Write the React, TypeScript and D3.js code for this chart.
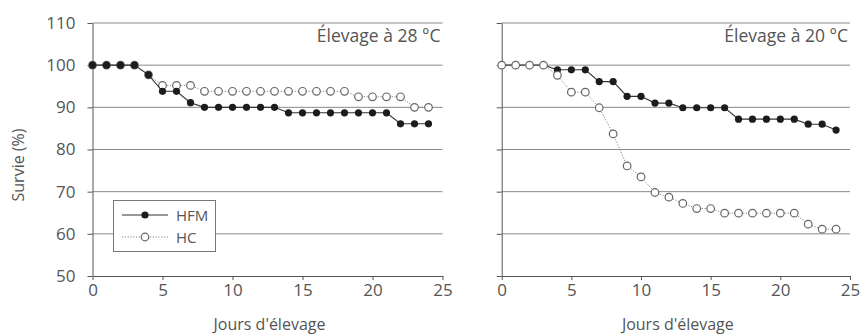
import React, { useRef, useEffect } from "react";
import * as d3 from "d3";

// jours d'élevage
const days = [0, 1, 2, 3, 4, 5, 6, 7, 8, 9, 10, 11, 12, 13, 14, 15, 16, 17, 18, 19, 20, 21, 22, 23, 24];

// survie (%) - élevage à 28 °C
const hfm28 = [100, 100, 100, 100, 97.7, 93.8, 93.8, 91.1, 90, 90, 90, 90, 90, 90, 88.7, 88.7, 88.7, 88.7, 88.7, 88.7, 88.7, 88.7, 86.1, 86.1, 86.1];
const hc28 = [100, 100, 100, 100, 97.7, 95.2, 95.2, 95.2, 93.8, 93.8, 93.8, 93.8, 93.8, 93.8, 93.8, 93.8, 93.8, 93.8, 93.8, 92.5, 92.5, 92.5, 92.5, 90, 90];

// survie (%) - élevage à 20 °C
const hfm20 = [100, 100, 100, 100, 98.9, 98.9, 98.9, 96.1, 96.1, 92.6, 92.6, 91, 91, 89.9, 89.9, 89.9, 89.9, 87.2, 87.2, 87.2, 87.2, 87.2, 86, 86, 84.6];
const hc20 = [100, 100, 100, 100, 97.6, 93.6, 93.6, 89.9, 83.7, 76.1, 73.5, 69.8, 68.7, 67.2, 66, 66, 64.9, 64.9, 64.9, 64.9, 64.9, 64.9, 62.3, 61.1, 61.1];

const yTicks = [50, 60, 70, 80, 90, 100, 110];
const xTicks = [0, 5, 10, 15, 20, 25];

const panels = [
  { title: "Élevage à 28 °C", hfm: hfm28, hc: hc28, x0: 92.5, x1: 442.5, labels: true, hcOnTop: false },
  { title: "Élevage à 20 °C", hfm: hfm20, hc: hc20, x0: 501.7, x1: 850, labels: false, hcOnTop: true },
];

const font = "'Open Sans', 'DejaVu Sans', sans-serif";
const textColor = "#555";

const App = () => {
  const svgRef = useRef(null);

  useEffect(() => {
    const svg = d3.select(svgRef.current);
    svg.selectAll("*").remove();

    const y = d3.scaleLinear().domain([50, 110]).range([276, 23]);

    panels.forEach((p) => {
      const x = d3.scaleLinear().domain([0, 25]).range([p.x0, p.x1]);
      const g = svg.append("g");

      // horizontal grid lines
      g.selectAll(".grid")
        .data(yTicks.filter((t) => t > 50))
        .enter()
        .append("line")
        .attr("x1", p.x0)
        .attr("x2", p.x1)
        .attr("y1", (d) => y(d))
        .attr("y2", (d) => y(d))
        .attr("stroke", "#8a8a8a")
        .attr("stroke-width", 1);

      // y axis
      const yAxis = g
        .append("g")
        .attr("transform", `translate(${p.x0},0)`)
        .call(d3.axisLeft(y).tickValues(yTicks).tickSize(5).tickSizeOuter(0).tickFormat(p.labels ? d3.format("d") : () => ""));
      yAxis.select(".domain").attr("stroke", "#555");
      yAxis.selectAll(".tick line").attr("stroke", "#555");
      yAxis
        .selectAll("text")
        .attr("x", -17)
        .attr("fill", textColor)
        .style("font-family", font)
        .style("font-size", "17px");

      // x axis
      const xAxis = g
        .append("g")
        .attr("transform", `translate(0,${y(50)})`)
        .call(d3.axisBottom(x).tickValues(xTicks).tickSize(4).tickSizeOuter(0));
      xAxis.select(".domain").attr("stroke", "#555");
      xAxis.selectAll(".tick line").attr("stroke", "#555");
      xAxis
        .selectAll("text")
        .attr("y", 8)
        .attr("fill", textColor)
        .style("font-family", font)
        .style("font-size", "17px");

      // titles
      g.append("text")
        .attr("x", p.x1 - 2)
        .attr("y", 42)
        .attr("text-anchor", "end")
        .attr("fill", textColor)
        .style("font-family", font)
        .style("font-size", "17.5px")
        .text(p.title);

      g.append("text")
        .attr("x", (p.x0 + p.x1) / 2 + 2)
        .attr("y", 330)
        .attr("text-anchor", "middle")
        .attr("fill", textColor)
        .style("font-family", font)
        .style("font-size", "16px")
        .text("Jours d'élevage");

      const line = d3
        .line()
        .x((d, i) => x(days[i]))
        .y((d) => y(d));

      const drawHfm = () => {
        g.append("path")
          .attr("d", line(p.hfm))
          .attr("fill", "none")
          .attr("stroke", "#333")
          .attr("stroke-width", 1.1);
        g.selectAll(".hfm")
          .data(p.hfm)
          .enter()
          .append("circle")
          .attr("cx", (d, i) => x(days[i]))
          .attr("cy", (d) => y(d))
          .attr("r", 3.6)
          .attr("fill", "#1c1c1c");
      };

      const drawHc = () => {
        g.append("path")
          .attr("d", line(p.hc))
          .attr("fill", "none")
          .attr("stroke", "#888")
          .attr("stroke-width", 1)
          .attr("stroke-dasharray", "1.2,1.6");
        g.selectAll(".hc")
          .data(p.hc)
          .enter()
          .append("circle")
          .attr("cx", (d, i) => x(days[i]))
          .attr("cy", (d) => y(d))
          .attr("r", 3.8)
          .attr("fill", "#fff")
          .attr("stroke", "#666")
          .attr("stroke-width", 1.2);
      };

      if (p.hcOnTop) {
        drawHfm();
        drawHc();
      } else {
        drawHc();
        drawHfm();
      }

      // legend
      if (p.labels) {
        const lg = g.append("g");
        lg.append("rect")
          .attr("x", 113.5)
          .attr("y", 200.5)
          .attr("width", 102)
          .attr("height", 51)
          .attr("fill", "#fff")
          .attr("stroke", "#777")
          .attr("stroke-width", 1);
        lg.append("line")
          .attr("x1", 122).attr("x2", 168).attr("y1", 215).attr("y2", 215)
          .attr("stroke", "#333").attr("stroke-width", 1.1);
        lg.append("circle").attr("cx", 145).attr("cy", 215).attr("r", 3.6).attr("fill", "#1c1c1c");
        lg.append("line")
          .attr("x1", 122).attr("x2", 168).attr("y1", 237).attr("y2", 237)
          .attr("stroke", "#888").attr("stroke-width", 1).attr("stroke-dasharray", "1.2,1.6");
        lg.append("circle").attr("cx", 145).attr("cy", 237).attr("r", 3.8)
          .attr("fill", "#fff").attr("stroke", "#666").attr("stroke-width", 1.2);
        [["HFM", 221], ["HC", 243]].forEach(([t, ty]) => {
          lg.append("text")
            .attr("x", 176)
            .attr("y", ty)
            .attr("fill", textColor)
            .style("font-family", font)
            .style("font-size", "15px")
            .text(t);
        });
      }
    });

    // y axis label
    svg
      .append("text")
      .attr("transform", "translate(24,165) rotate(-90)")
      .attr("text-anchor", "middle")
      .attr("fill", textColor)
      .style("font-family", font)
      .style("font-size", "16px")
      .text("Survie (%)");
  }, []);

  return (
    <svg
      ref={svgRef}
      width={862}
      height={334}
      style={{ position: "absolute", left: 0, top: 0, background: "#fff" }}
    ></svg>
  );
};

export default App;
